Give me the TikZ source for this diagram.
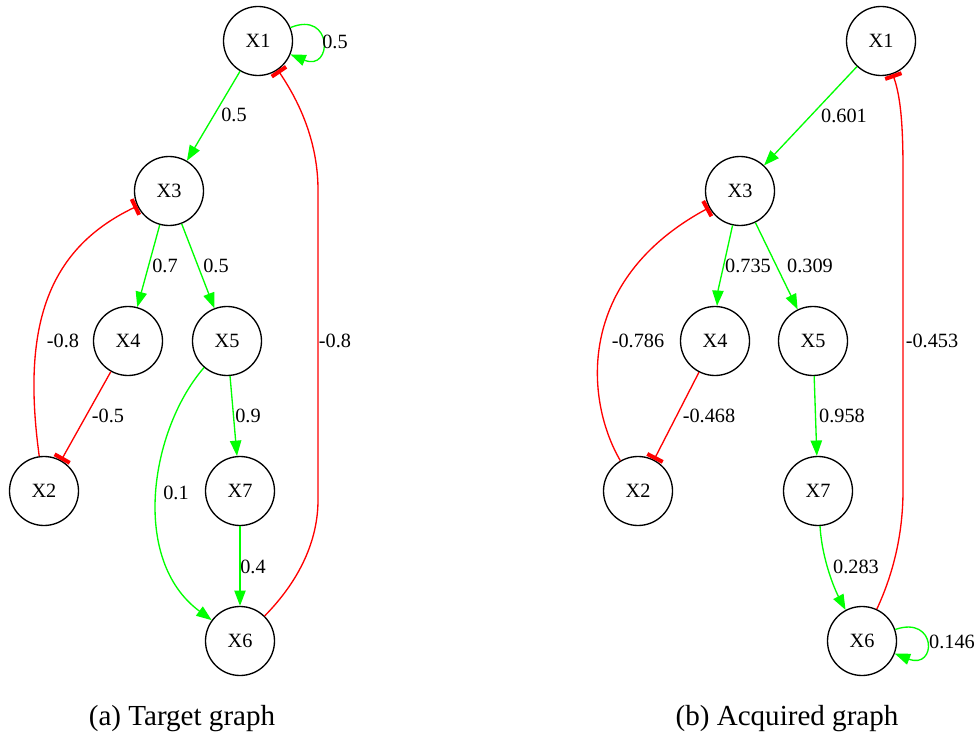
\documentclass[tikz,border=0pt]{standalone}
\usepackage{fontspec}
\setmainfont{Liberation Serif}
\usetikzlibrary{arrows.meta}
\definecolor{actgreen}{RGB}{0,255,0}
\definecolor{inhred}{RGB}{255,0,0}
\begin{document}
\begin{tikzpicture}[x=0.75pt,y=-0.75pt,
  gnode/.style={circle,draw,line width=1pt,minimum size=51.75pt,inner sep=0pt,
    font=\fontsize{15.2}{18}\selectfont},
  wlabel/.style={inner sep=0pt,font=\fontsize{15.2}{18}\selectfont},
  act/.style={actgreen,line width=1pt,-{Triangle[length=11.5pt,width=8.5pt]}},
  inh/.style={inhred,line width=1pt,-{Rectangle[length=3pt,width=13pt]}},
  captext/.style={anchor=base,inner sep=0pt,font=\fontsize{21.8}{26}\selectfont}]
\useasboundingbox (0,0) rectangle (980,737);

% ---------- (a) target graph ----------
\node[gnode] (L1) at (258,41)  {X1};
\node[gnode] (L3) at (169,191) {X3};
\node[gnode] (L4) at (128,341) {X4};
\node[gnode] (L5) at (227,341) {X5};
\node[gnode] (L2) at (44,491)  {X2};
\node[gnode] (L7) at (240,491) {X7};
\node[gnode] (L6) at (240,641) {X6};

\draw[act] (L1) .. controls (333,10) and (333,72) .. (L1);
\draw[act] (L1) -- (L3);
\draw[act] (L3) -- (L4);
\draw[act] (L3) -- (L5);
\draw[inh] (L2) .. controls (22,330) and (45,250) .. (L3);
\draw[inh] (L4) -- (L2);
\draw[act] (L5) -- (L7);
\draw[act] (L5) .. controls (150,430) and (130,560) .. (L6);
\draw[act] (L7) -- (L6);
\draw[inh] (L6) .. controls (300,580) and (318,540) .. (318,500)
  -- (318,190) .. controls (318,150) and (305,110) .. (L1);

\node[wlabel] (la1) at (335,42)  {0.5};
\node[wlabel] (la2) at (234,115) {0.5};
\node[wlabel] (la3) at (165,266) {0.7};
\node[wlabel] (la4) at (216,266) {0.5};
\node[wlabel] (la5) at (63,341)  {-0.8};
\node[wlabel] (la6) at (108,416) {-0.5};
\node[wlabel] (la7) at (248,416) {0.9};
\node[wlabel] (la8) at (176,493) {0.1};
\node[wlabel] (la9) at (253,567) {0.4};
\node[wlabel] (la10) at (335,341) {-0.8};

\node[captext] (capa) at (182,725) {(a) Target graph};

% ---------- (b) acquired graph ----------
\node[gnode] (R1) at (881,41)  {X1};
\node[gnode] (R3) at (740,191) {X3};
\node[gnode] (R4) at (715,341) {X4};
\node[gnode] (R5) at (813,341) {X5};
\node[gnode] (R2) at (638,491) {X2};
\node[gnode] (R7) at (818,491) {X7};
\node[gnode] (R6) at (862,641) {X6};

\draw[act] (R1) -- (R3);
\draw[act] (R3) .. controls (725,260) and (718,290) .. (R4);
\draw[act] (R3) -- (R5);
\draw[inh] (R2) .. controls (585,400) and (575,280) .. (R3);
\draw[inh] (R4) -- (R2);
\draw[act] (R5) -- (R7);
\draw[act] (R7) .. controls (822,560) and (835,590) .. (R6);
\draw[act] (R6) .. controls (937,615) and (937,670) .. (R6);
\draw[inh] (R6) .. controls (895,570) and (903,530) .. (903,490)
  -- (903,170) .. controls (903,120) and (900,95) .. (R1);

\node[wlabel] (lb1) at (844,116) {0.601};
\node[wlabel] (lb2) at (748,266) {0.735};
\node[wlabel] (lb3) at (810,266) {0.309};
\node[wlabel] (lb4) at (638,341) {-0.786};
\node[wlabel] (lb5) at (709,416) {-0.468};
\node[wlabel] (lb6) at (842,416) {0.958};
\node[wlabel] (lb7) at (856,567) {0.283};
\node[wlabel] (lb8) at (952,642) {0.146};
\node[wlabel] (lb9) at (932,341) {-0.453};

\node[captext] (capb) at (787,725) {(b) Acquired graph};
\end{tikzpicture}
\end{document}
